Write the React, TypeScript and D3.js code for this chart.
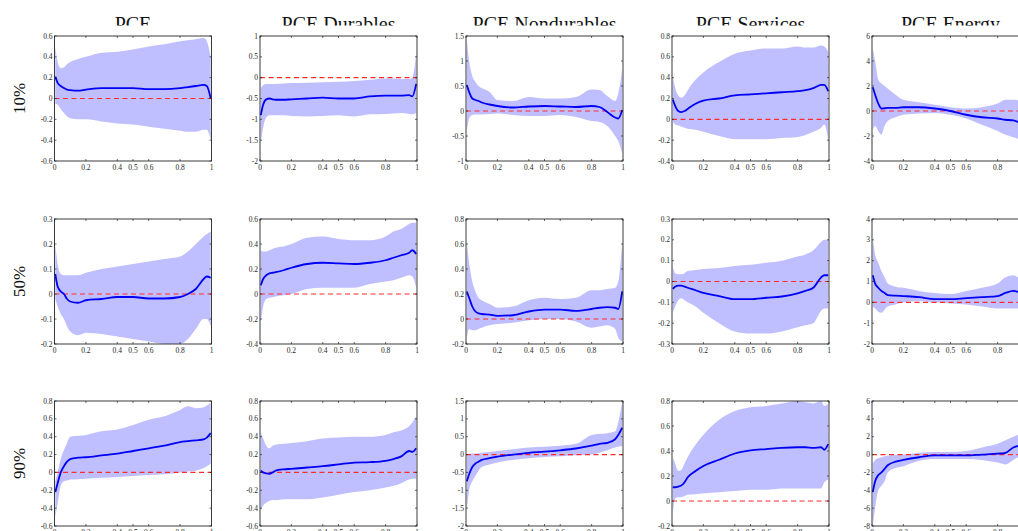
import React from 'react';
import * as d3 from 'd3';

// quantile grid shared by every panel
const quantiles = [0.005, 0.02, 0.04, 0.06, 0.08, 0.1, 0.15, 0.2, 0.3, 0.4, 0.5, 0.6, 0.7, 0.8, 0.85, 0.9, 0.95, 0.97, 0.995];

const titles = ['PCE', 'PCE Durables', 'PCE Nondurables', 'PCE Services', 'PCE Energy'];
const rowLabels = ['10%', '50%', '90%'];
const xTicks = [0, 0.2, 0.4, 0.5, 0.6, 0.8, 1];

// y tick sets, one per panel (row by row)
const yTicks10 = [
  [-0.6, -0.4, -0.2, 0, 0.2, 0.4, 0.6],
  [-2, -1.5, -1, -0.5, 0, 0.5, 1],
  [-1, -0.5, 0, 0.5, 1, 1.5],
  [-0.4, -0.2, 0, 0.2, 0.4, 0.6, 0.8],
  [-4, -2, 0, 2, 4, 6],
];
const yTicks50 = [
  [-0.2, -0.1, 0, 0.1, 0.2, 0.3],
  [-0.4, -0.2, 0, 0.2, 0.4, 0.6],
  [-0.2, 0, 0.2, 0.4, 0.6, 0.8],
  [-0.3, -0.2, -0.1, 0, 0.1, 0.2, 0.3],
  [-2, -1, 0, 1, 2, 3, 4],
];
const yTicks90 = [
  [-0.6, -0.4, -0.2, 0, 0.2, 0.4, 0.6, 0.8],
  [-0.6, -0.4, -0.2, 0, 0.2, 0.4, 0.6, 0.8],
  [-2, -1.5, -1, -0.5, 0, 0.5, 1, 1.5],
  [-0.2, 0, 0.2, 0.4, 0.6, 0.8],
  [-8, -6, -4, -2, 0, 2, 4, 6],
];

// 10% quantile
const mid10 = [
  [0.21, 0.15, 0.12, 0.1, 0.085, 0.08, 0.075, 0.085, 0.1, 0.1, 0.1, 0.09, 0.09, 0.1, 0.11, 0.12, 0.13, 0.12, 0.0],
  [-0.9, -0.65, -0.52, -0.5, -0.52, -0.53, -0.53, -0.52, -0.5, -0.48, -0.5, -0.5, -0.45, -0.43, -0.43, -0.43, -0.42, -0.45, -0.15],
  [0.52, 0.38, 0.25, 0.22, 0.2, 0.17, 0.13, 0.1, 0.07, 0.09, 0.1, 0.09, 0.08, 0.1, 0.08, -0.02, -0.13, -0.15, 0.02],
  [0.19, 0.13, 0.08, 0.07, 0.08, 0.1, 0.15, 0.18, 0.2, 0.23, 0.24, 0.25, 0.26, 0.27, 0.28, 0.3, 0.33, 0.33, 0.27],
  [1.9, 1.3, 0.6, 0.2, 0.22, 0.25, 0.25, 0.3, 0.3, 0.2, 0.0, -0.3, -0.5, -0.6, -0.7, -0.75, -1.0, -1.1, -1.2],
];
const lo10 = [
  [-0.05, -0.06, -0.1, -0.14, -0.17, -0.19, -0.2, -0.2, -0.22, -0.24, -0.25, -0.27, -0.29, -0.31, -0.32, -0.32, -0.3, -0.3, -0.4],
  [-1.55, -1.2, -0.95, -0.9, -0.9, -0.9, -0.9, -0.92, -0.93, -0.92, -0.9, -0.93, -0.88, -0.87, -0.86, -0.85, -0.87, -0.88, -0.85],
  [-0.4, -0.15, -0.08, -0.07, -0.07, -0.07, -0.06, -0.05, -0.08, -0.1, -0.1, -0.08, -0.12, -0.2, -0.22, -0.3, -0.5, -0.6, -0.85],
  [-0.02, -0.05, -0.06, -0.07, -0.08, -0.09, -0.1, -0.12, -0.16, -0.19, -0.19, -0.19, -0.18, -0.17, -0.15, -0.12, -0.08, -0.05, -0.2],
  [-1.5, -1.2, -1.6, -1.9, -1.2, -0.8, -0.5, -0.3, -0.2, -0.15, -0.3, -0.6, -1.1, -1.6, -1.9, -2.1, -2.3, -2.4, -2.5],
];
const hi10 = [
  [0.5, 0.35, 0.29, 0.3, 0.33, 0.35, 0.38, 0.4, 0.44, 0.45, 0.47, 0.5, 0.52, 0.55, 0.56, 0.57, 0.58, 0.55, 0.4],
  [-0.25, -0.18, -0.15, -0.15, -0.15, -0.15, -0.14, -0.13, -0.12, -0.11, -0.1, -0.08, -0.05, -0.02, -0.02, -0.03, -0.03, 0.0, 0.6],
  [1.45, 1.0, 0.7, 0.58, 0.5, 0.46, 0.38, 0.22, 0.2, 0.28, 0.25, 0.25, 0.28, 0.43, 0.42, 0.3, 0.2, 0.35, 0.85],
  [0.42, 0.3, 0.23, 0.21, 0.23, 0.28, 0.38, 0.45, 0.55, 0.63, 0.66, 0.68, 0.68, 0.7, 0.69, 0.69, 0.71, 0.7, 0.65],
  [5.0, 4.0, 2.5, 2.2, 2.0, 1.8, 1.3, 0.9, 0.7, 0.5, 0.3, 0.2, 0.3, 0.6, 0.9, 0.9, 0.8, 0.7, 0.6],
];

// 50% quantile
const mid50 = [
  [0.08, 0.03, 0.01, 0.0, -0.02, -0.03, -0.035, -0.025, -0.02, -0.012, -0.012, -0.018, -0.018, -0.012, 0.0, 0.02, 0.06, 0.07, 0.065],
  [0.07, 0.12, 0.15, 0.165, 0.17, 0.175, 0.19, 0.21, 0.24, 0.25, 0.245, 0.24, 0.25, 0.27, 0.29, 0.31, 0.33, 0.35, 0.32],
  [0.22, 0.17, 0.1, 0.06, 0.045, 0.04, 0.035, 0.025, 0.03, 0.06, 0.075, 0.075, 0.065, 0.08, 0.09, 0.095, 0.09, 0.08, 0.22],
  [-0.035, -0.025, -0.02, -0.02, -0.025, -0.03, -0.042, -0.055, -0.07, -0.085, -0.085, -0.078, -0.072, -0.057, -0.045, -0.03, 0.02, 0.03, 0.03],
  [1.3, 0.9, 0.7, 0.55, 0.45, 0.35, 0.32, 0.3, 0.25, 0.15, 0.15, 0.2, 0.25, 0.3, 0.45, 0.55, 0.45, 0.42, 0.4],
];
const lo50 = [
  [-0.02, -0.05, -0.08, -0.1, -0.13, -0.15, -0.165, -0.155, -0.16, -0.17, -0.18, -0.19, -0.2, -0.2, -0.18, -0.14, -0.1, -0.1, -0.13],
  [-0.23, -0.1, -0.04, -0.03, -0.025, -0.02, -0.01, 0.0, 0.04, 0.05, 0.05, 0.05, 0.08, 0.1, 0.11, 0.13, 0.15, 0.14, 0.05],
  [-0.15, -0.08, -0.09, -0.09, -0.08, -0.07, -0.05, -0.04, -0.03, -0.01, 0.0, 0.0, -0.02, -0.07, -0.06, -0.05, -0.08, -0.15, -0.18],
  [-0.15, -0.12, -0.09, -0.08, -0.09, -0.1, -0.12, -0.15, -0.2, -0.24, -0.25, -0.25, -0.24, -0.22, -0.21, -0.2, -0.14, -0.13, -0.13],
  [-0.2, -0.3, -0.45, -0.5, -0.35, -0.2, -0.1, 0.0, 0.05, 0.0, -0.05, -0.1, -0.2, -0.3, -0.3, -0.3, -0.3, -0.3, -0.3],
];
const hi50 = [
  [0.2, 0.12, 0.08, 0.075, 0.075, 0.075, 0.075, 0.085, 0.1, 0.11, 0.12, 0.13, 0.14, 0.15, 0.17, 0.2, 0.23, 0.24, 0.25],
  [0.35, 0.34, 0.34, 0.35, 0.36, 0.37, 0.38, 0.4, 0.45, 0.46, 0.44, 0.43, 0.43, 0.46, 0.5, 0.52, 0.56, 0.57, 0.57],
  [0.62, 0.45, 0.3, 0.22, 0.17, 0.15, 0.12, 0.09, 0.1, 0.15, 0.17, 0.16, 0.17, 0.23, 0.23, 0.24, 0.25, 0.3, 0.62],
  [0.07, 0.04, 0.035, 0.035, 0.04, 0.05, 0.055, 0.06, 0.065, 0.075, 0.08, 0.09, 0.1, 0.12, 0.13, 0.15, 0.19, 0.2, 0.2],
  [3.1, 2.3, 1.9, 1.5, 1.2, 0.9, 0.75, 0.7, 0.55, 0.45, 0.4, 0.55, 0.7, 0.9, 1.2, 1.3, 1.1, 1.05, 1.0],
];

// 90% quantile
const mid90 = [
  [-0.22, -0.12, 0.0, 0.07, 0.12, 0.15, 0.165, 0.17, 0.19, 0.21, 0.24, 0.27, 0.3, 0.34, 0.35, 0.36, 0.37, 0.39, 0.44],
  [0.02, 0.0, -0.01, -0.015, 0.0, 0.02, 0.035, 0.04, 0.055, 0.07, 0.09, 0.11, 0.115, 0.13, 0.15, 0.18, 0.24, 0.23, 0.27],
  [-0.75, -0.55, -0.35, -0.25, -0.2, -0.15, -0.1, -0.06, 0.0, 0.05, 0.08, 0.12, 0.17, 0.25, 0.3, 0.33, 0.43, 0.55, 0.75],
  [0.11, 0.11, 0.115, 0.125, 0.15, 0.19, 0.24, 0.28, 0.33, 0.38, 0.405, 0.415, 0.425, 0.43, 0.43, 0.425, 0.43, 0.41, 0.455],
  [-4.2, -3.0, -2.3, -2.0, -1.6, -1.2, -0.8, -0.6, -0.3, -0.1, -0.1, -0.1, 0.0, 0.1, 0.2, 0.8, 1.1, 1.3, 1.5],
];
const lo90 = [
  [-0.5, -0.35, -0.15, -0.1, -0.09, -0.08, -0.075, -0.07, -0.06, -0.05, -0.04, -0.03, -0.02, 0.0, 0.01, 0.02, 0.05, 0.07, 0.1],
  [-0.42, -0.37, -0.34, -0.32, -0.31, -0.31, -0.3, -0.3, -0.3, -0.28, -0.25, -0.22, -0.2, -0.17, -0.15, -0.12, -0.08, -0.07, -0.07],
  [-1.55, -1.0, -0.75, -0.6, -0.45, -0.35, -0.28, -0.22, -0.15, -0.1, -0.07, -0.05, -0.02, 0.0, 0.05, 0.12, 0.2, 0.22, 0.23],
  [-0.1, 0.02, 0.03, 0.03, 0.04, 0.05, 0.055, 0.06, 0.07, 0.08, 0.09, 0.09, 0.1, 0.1, 0.1, 0.1, 0.1, 0.15, 0.17],
  [-8.0, -6.0, -4.0, -3.5, -3.0, -2.0, -1.5, -1.3, -0.7, -0.5, -0.5, -0.5, -0.6, -0.9, -1.1, -0.6, -0.2, -0.1, 0.0],
];
const hi90 = [
  [-0.1, 0.0, 0.15, 0.25, 0.33, 0.4, 0.41, 0.42, 0.46, 0.48, 0.53, 0.59, 0.63, 0.7, 0.74, 0.72, 0.73, 0.75, 0.78],
  [0.45, 0.38, 0.3, 0.27, 0.3, 0.31, 0.32, 0.33, 0.35, 0.38, 0.39, 0.4, 0.4, 0.42, 0.45, 0.47, 0.52, 0.56, 0.63],
  [0.02, 0.02, 0.03, 0.03, 0.04, 0.05, 0.07, 0.1, 0.15, 0.2, 0.22, 0.25, 0.3, 0.55, 0.58, 0.6, 0.65, 0.9, 1.5],
  [0.35, 0.3, 0.24, 0.25, 0.3, 0.35, 0.45, 0.53, 0.65, 0.72, 0.75, 0.76, 0.78, 0.8, 0.79, 0.78, 0.8, 0.76, 0.78],
  [-1.0, -0.6, -0.4, -0.3, -0.2, -0.1, -0.05, 0.0, 0.2, 0.3, 0.3, 0.4, 0.8, 1.2, 1.6, 2.0, 2.3, 2.4, 2.5],
];

const rows = [
  { ticks: yTicks10, mid: mid10, lo: lo10, hi: hi10 },
  { ticks: yTicks50, mid: mid50, lo: lo50, hi: hi50 },
  { ticks: yTicks90, mid: mid90, lo: lo90, hi: hi90 },
];

// layout
const colLeft = [54.5, 260, 466, 672, 872];
const rowTop = [36, 219, 401];
const PW = 157;
const PH = 125;
const FONT = '"Liberation Serif", "DejaVu Serif", serif';
const AXIS = '#262626';

const fmt = (v: number) => String(v);

function Panel({ x0, y0, ticks, mid, lo, hi, id }: any) {
  const x = d3.scaleLinear().domain([0, 1]).range([x0, x0 + PW]);
  const y = d3.scaleLinear().domain([ticks[0], ticks[ticks.length - 1]]).range([y0 + PH, y0]);
  const pts = quantiles.map((q, i) => ({ q, m: mid[i], l: lo[i], h: hi[i] }));

  const area = d3.area<any>()
    .x(d => x(d.q))
    .y0(d => y(d.l))
    .y1(d => y(d.h))
    .curve(d3.curveMonotoneX);
  const line = d3.line<any>()
    .x(d => x(d.q))
    .y(d => y(d.m))
    .curve(d3.curveMonotoneX);

  return (
    <g>
      <defs>
        <clipPath id={id}>
          <rect x={x0} y={y0} width={PW} height={PH} />
        </clipPath>
      </defs>
      <g clipPath={`url(#${id})`}>
        <path d={area(pts) || ''} fill="#bfbfff" stroke="none" />
        <line x1={x(0)} x2={x(1)} y1={y(0)} y2={y(0)} stroke="#ff2a2a" strokeWidth={1.2} strokeDasharray="5,3.5" />
        <path d={line(pts) || ''} fill="none" stroke="#0000f5" strokeWidth={1.8} />
      </g>
      <rect x={x0} y={y0} width={PW} height={PH} fill="none" stroke={AXIS} strokeWidth={0.9} />
      {xTicks.map(t => (
        <g key={'x' + t}>
          <line x1={x(t)} x2={x(t)} y1={y0 + PH} y2={y0 + PH - 2} stroke={AXIS} strokeWidth={0.7} />
          <line x1={x(t)} x2={x(t)} y1={y0} y2={y0 + 2} stroke={AXIS} strokeWidth={0.7} />
          <text x={x(t)} y={y0 + PH + 8.5} textAnchor="middle" fontSize={7.5} fontFamily={FONT} fill={AXIS}>{fmt(t)}</text>
        </g>
      ))}
      {ticks.map((t: number) => (
        <g key={'y' + t}>
          <line x1={x0} x2={x0 + 2} y1={y(t)} y2={y(t)} stroke={AXIS} strokeWidth={0.7} />
          <line x1={x0 + PW} x2={x0 + PW - 2} y1={y(t)} y2={y(t)} stroke={AXIS} strokeWidth={0.7} />
          <text x={x0 - 2} y={y(t) + 2.5} textAnchor="end" fontSize={7.5} fontFamily={FONT} fill={AXIS}>{fmt(t)}</text>
        </g>
      ))}
    </g>
  );
}

export default function App() {
  return (
    <svg width={1018} height={531} style={{ position: 'absolute', left: 0, top: 0, background: '#fff' }}>
      <defs>
        <clipPath id="titleClip">
          <rect x={0} y={0} width={1018} height={25.5} />
        </clipPath>
      </defs>
      <rect x={0} y={0} width={1018} height={531} fill="#fff" />
      <g clipPath="url(#titleClip)">
        {titles.map((t, c) => (
          <text key={t} x={colLeft[c] + PW / 2} y={31} textAnchor="middle" fontSize={20} fontFamily={FONT} fill="#111">{t}</text>
        ))}
      </g>
      {rowLabels.map((lab, r) => (
        <text key={lab} transform={`translate(25,${rowTop[r] + PH / 2}) rotate(-90)`} textAnchor="middle" fontSize={17} fontFamily={FONT} fill="#111">{lab}</text>
      ))}
      {rows.map((row, r) =>
        titles.map((_, c) => (
          <Panel
            key={`p${r}-${c}`}
            id={`clip${r}-${c}`}
            x0={colLeft[c]}
            y0={rowTop[r]}
            ticks={row.ticks[c]}
            mid={row.mid[c]}
            lo={row.lo[c]}
            hi={row.hi[c]}
          />
        ))
      )}
    </svg>
  );
}
